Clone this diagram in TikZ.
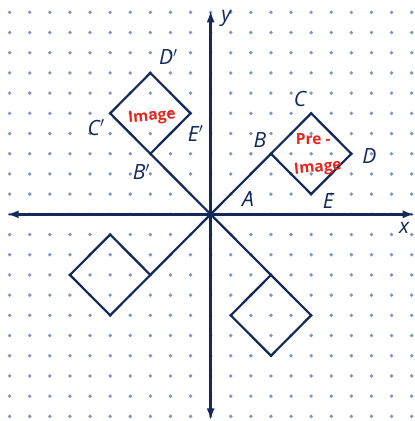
\documentclass[tikz,border=0pt]{standalone}
\usepackage{fontspec}
\setmainfont{Open Sans}
\usetikzlibrary{arrows.meta}
\definecolor{navy}{HTML}{13295A}
\definecolor{dotc}{HTML}{8595C0}
\definecolor{redink}{HTML}{E8261E}
\tikzset{
  axisline/.style={line width=2.6pt, draw=navy, {Latex[length=12pt,width=8pt]}-{Latex[length=12pt,width=8pt]}},
  figline/.style={line width=2.2pt, draw=navy, line join=miter},
  lbl/.style={text=navy, font=\fontsize{21}{24}\selectfont\itshape, inner sep=0pt},
  redlbl/.style={text=redink, font=\fontsize{15.5}{18}\selectfont\bfseries, inner sep=0pt},
}
\begin{document}
\begin{tikzpicture}[x=20.1pt,y=20.2pt]
\useasboundingbox (-10.48,-10.23) rectangle (10.16,10.61);
% dots
\foreach \i in {-10,...,10}{
  \foreach \j in {-10,...,10}{
    \fill[dotc] (\i,\j) circle (1.9pt);
  }
}
% axes
\coordinate (O) at (0,0);
\coordinate (xl) at (-10.15,0);
\coordinate (xr) at (10.15,0);
\coordinate (yb) at (0,-10.2);
\coordinate (yt) at (0,10.1);
\draw[axisline] (xl) -- (xr);
\draw[axisline] (yb) -- (yt);
% pre-image
\coordinate (B) at (3,3);
\coordinate (C) at (5,5);
\coordinate (D) at (7,3);
\coordinate (E) at (5,1);
\draw[figline] (O) -- (B);
\draw[figline] (B) -- (C) -- (D) -- (E) -- cycle;
% image (90 deg)
\coordinate (B1) at (-3,3);
\coordinate (C1) at (-5,5);
\coordinate (D1) at (-3,7);
\coordinate (E1) at (-1,5);
\draw[figline] (O) -- (B1);
\draw[figline] (B1) -- (C1) -- (D1) -- (E1) -- cycle;
% 180 deg
\coordinate (B2) at (-3,-3);
\coordinate (C2) at (-5,-1);
\coordinate (D2) at (-7,-3);
\coordinate (E2) at (-5,-5);
\draw[figline] (O) -- (B2);
\draw[figline] (B2) -- (C2) -- (D2) -- (E2) -- cycle;
% 270 deg
\coordinate (B3) at (3,-3);
\coordinate (C3) at (1,-5);
\coordinate (D3) at (3,-7);
\coordinate (E3) at (5,-5);
\draw[figline] (O) -- (B3);
\draw[figline] (B3) -- (C3) -- (D3) -- (E3) -- cycle;
% labels
\node[lbl] (ly) at (0.77,9.72) {y};
\node[lbl] (lx) at (9.63,-0.68) {x};
\node[lbl] (lA) at (1.86,0.75) {A};
\node[lbl] (lB) at (2.45,3.67) {B};
\node[lbl] (lC) at (4.45,5.7) {C};
\node[lbl] (lD) at (7.9,2.9) {D};
\node[lbl] (lE) at (5.85,0.65) {E};
\node[lbl] (lB1) at (-3.45,2.1) {B$'$};
\node[lbl] (lC1) at (-5.7,4.3) {C$'$};
\node[lbl] (lD1) at (-2.1,7.8) {D$'$};
\node[lbl] (lE1) at (-0.75,4.0) {E$'$};
\node[redlbl,rotate=5] (rt1) at (-2.92,4.82) {Image};
\node[redlbl] (rt2) at (5.1,3.72) {Pre -};
\node[redlbl,rotate=6] (rt3) at (5.34,2.28) {Image};
\end{tikzpicture}
\end{document}
